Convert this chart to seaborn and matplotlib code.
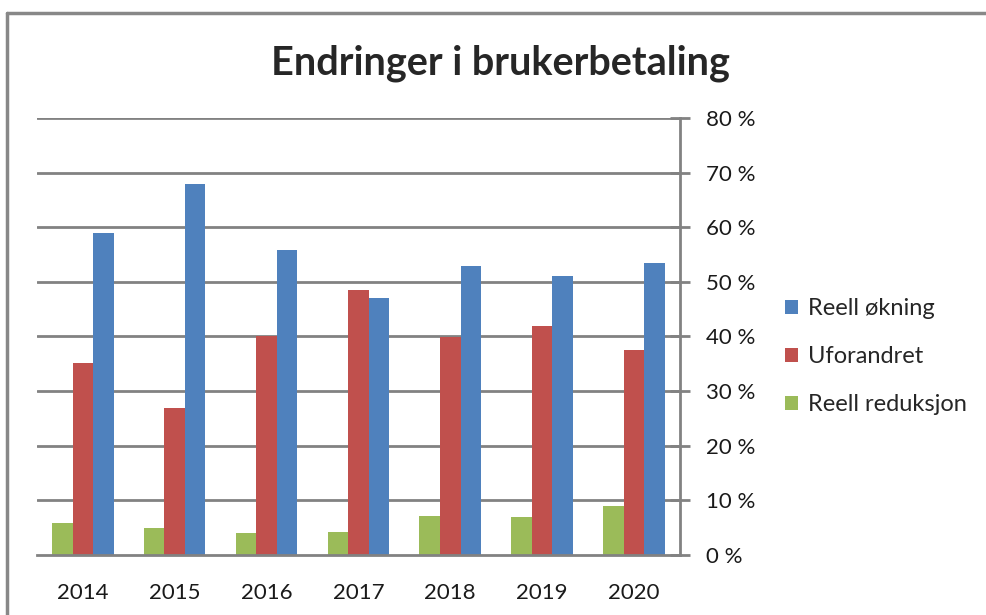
import pandas as pd
import seaborn as sns
import matplotlib.pyplot as plt
from matplotlib.lines import Line2D
from matplotlib.ticker import FuncFormatter, FixedLocator

# Data (percent)
years = ["2014", "2015", "2016", "2017", "2018", "2019", "2020"]
reell_reduksjon = [5.8, 4.9, 4.0, 4.2, 7.2, 7.0, 8.9]
uforandret = [35.1, 26.9, 40.0, 48.5, 39.9, 42.0, 37.6]
reell_okning = [58.9, 67.9, 55.9, 47.1, 52.9, 51.0, 53.5]

series = ["Reell reduksjon", "Uforandret", "Reell økning"]
colors = ["#9BBB59", "#C0504D", "#4F81BD"]

df = pd.DataFrame({
    "År": years * 3,
    "Andel": reell_reduksjon + uforandret + reell_okning,
    "Serie": [s for s in series for _ in years],
})

sns.set_style("white")
plt.rcParams["font.family"] = ["Lato", "DejaVu Sans"]

fig = plt.figure(figsize=(9.86, 6.15), dpi=100)
ax = fig.add_axes([0.0375, 0.0976, 0.652, 0.7105])

grid_col = "#828282"
for v in range(10, 81, 10):
    ax.axhline(v, color=grid_col, lw=2, zorder=0)

sns.barplot(data=df, x="År", y="Andel", hue="Serie", hue_order=series,
            palette=colors, width=0.67, saturation=1, linewidth=0,
            ax=ax, zorder=2)

ax.set_xlim(-0.5, 6.5)
ax.set_ylim(0, 80)
ax.set_xlabel("")
ax.set_ylabel("")

# y axis on the right
ax.yaxis.tick_right()
ax.set_yticks(range(0, 81, 10))
ax.yaxis.set_major_formatter(FuncFormatter(lambda v, p: f"{int(v)} %"))
ax.tick_params(axis="y", direction="inout", length=14, width=2, color=grid_col,
               labelsize=16, pad=12, labelcolor="#1a1a1a")

# x ticks between categories
ax.tick_params(axis="x", which="major", length=0, labelsize=16, pad=20, labelcolor="#1a1a1a")
ax.xaxis.set_minor_locator(FixedLocator([i - 0.5 for i in range(len(years) + 1)]))
ax.tick_params(axis="x", which="minor", direction="out", length=7, width=2, color=grid_col)

for side in ["left", "top"]:
    ax.spines[side].set_visible(False)
for side in ["bottom", "right"]:
    ax.spines[side].set_color(grid_col)
    ax.spines[side].set_linewidth(2)

# legend, reversed order like Excel
handles, labels = ax.get_legend_handles_labels()
ax.legend(handles[::-1], labels[::-1], loc="center left",
          bbox_to_anchor=(0.787, 0.42), bbox_transform=fig.transFigure,
          frameon=False, fontsize=17, handlelength=0.55, handleheight=0.55,
          handletextpad=0.4, labelspacing=1.15, borderaxespad=0)

fig.text(0.508, 0.897, "Endringer i brukerbetaling", ha="center", va="center",
         fontsize=28.5, fontweight="bold")

# chart frame (only top and left edges visible)
fig.add_artist(Line2D([0.007, 1.0], [1 - 13 / 615] * 2, color="#888888", lw=2.5,
                      transform=fig.transFigure))
fig.add_artist(Line2D([0.007, 0.007], [0, 1 - 13 / 615], color="#888888", lw=2.5,
                      transform=fig.transFigure))

fig.savefig("out.png", dpi=100)
